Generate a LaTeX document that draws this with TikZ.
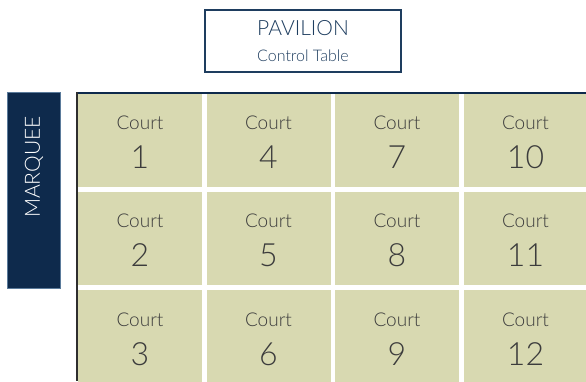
\documentclass[tikz,border=0pt]{standalone}
\usepackage{fontspec}
\IfFontExistsTF{Lato Light}{\setmainfont{Lato Light}}{\setmainfont{Lato}}
\definecolor{navy}{HTML}{0E2A4C}
\definecolor{pavnavy}{HTML}{1E3D5F}
\definecolor{marqueeedge}{HTML}{5B7B9B}
\definecolor{courtfill}{HTML}{D8D9B1}
\definecolor{courttext}{HTML}{3C3C3C}
\definecolor{edgegray}{HTML}{2E2E2E}
\begin{document}
\begin{tikzpicture}[x=1pt, y=-1pt,
  court/.style={rectangle, fill=courtfill, draw=none, minimum width=124pt, minimum height=93.5pt, inner sep=0pt, anchor=north west},
  courtword/.style={anchor=base, inner sep=0pt, text=courttext, font=\fontsize{19}{19}\selectfont},
  courtnum/.style={anchor=base, inner sep=0pt, text=courttext, font=\fontsize{32}{32}\selectfont},
  pavbox/.style={rectangle, draw=pavnavy, line width=2pt, minimum width=196pt, minimum height=62pt, inner sep=0pt},
  marquee/.style={rectangle, fill=navy, draw=marqueeedge, line width=0.6pt, minimum width=53pt, minimum height=196pt, inner sep=0pt}
]
  \useasboundingbox (0,0) rectangle (586,381);

  % Pavilion with the control table (top)
  \node[pavbox] (pavilion) at (303,41) {};
  \node[anchor=base, inner sep=0pt, text=pavnavy, font=\fontsize{21}{21}\selectfont] (pavtitle) at (303,35) {PAVILION};
  \node[anchor=base, inner sep=0pt, text=pavnavy, font=\fontsize{16}{16}\selectfont] (pavsub) at (303,61) {Control Table};

  % Marquee (left)
  \node[marquee] (marq) at (33.5,190) {};
  \node[rotate=90, inner sep=0pt, text=white, font=\fontsize{21}{21}\selectfont] (marqtext) at (34,167) {MARQUEE};

  % Courts, numbered down each column
  \foreach \col in {0,...,3}
    \foreach \row in {0,1,2} {
      \pgfmathtruncatemacro{\num}{\col*3+\row+1}
      \pgfmathsetmacro{\cx}{78+128.5*\col}
      \pgfmathsetmacro{\cy}{93+98.5*\row}
      \node[court] (court\num) at (\cx,\cy) {};
      \node[courtword] (court\num-word) at (\cx+62,\cy+36) {Court};
      \node[courtnum] (court\num-num) at (\cx+62,\cy+75) {\num};
    }

  % Edges of the court block
  \draw[navy, line width=1.5pt] (76,92.75) -- (586,92.75);
  \draw[edgegray, line width=2pt] (77,92) -- (77,381);
\end{tikzpicture}
\end{document}
